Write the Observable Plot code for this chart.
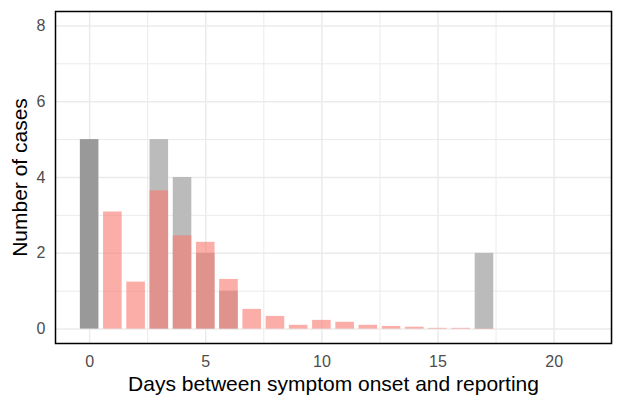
<!DOCTYPE html>
<html>
<head>
<meta charset="utf-8">
<script src="https://cdn.jsdelivr.net/npm/d3@7"></script>
<script src="https://cdn.jsdelivr.net/npm/@observablehq/plot@0.6"></script>
<style>
  html, body { margin: 0; padding: 0; background: #fff; }
  #chart svg { display: block; }
</style>
</head>
<body>
<div id="chart"></div>
<script>
// Observed reporting delays (days) and case counts
const observedDays = [0, 3, 4, 5, 6, 17];
const observedCases = [5, 5, 4, 2, 1, 2];

// Estimated delay distribution (expected cases per day)
const estimatedDays = [1, 2, 3, 4, 5, 6, 7, 8, 9, 10, 11, 12, 13, 14, 15, 16, 17];
const estimatedCases = [3.09, 1.24, 3.65, 2.46, 2.29, 1.31, 0.52, 0.335, 0.10, 0.23, 0.18, 0.10, 0.07, 0.05, 0.02, 0.02, 0.01];

const xTicks = [0, 5, 10, 15, 20];
const xMinor = [2.5, 7.5, 12.5, 17.5, 22.5];
const yTicks = [0, 2, 4, 6, 8];
const yMinor = [1, 3, 5, 7];

const xTitle = "Days between symptom onset and reporting";
const yTitle = "Number of cases";

const observed = observedDays.map((d, i) => ({day: d, cases: observedCases[i]}));
const estimated = estimatedDays.map((d, i) => ({day: d, cases: estimatedCases[i]}));

const half = 0.4;

const chart = Plot.plot({
  width: 622,
  height: 405,
  marginLeft: 55,
  marginRight: 11,
  marginTop: 11,
  marginBottom: 62,
  style: {fontFamily: "Liberation Sans, Arial, sans-serif", background: "#fff"},
  x: {domain: [-1.47, 22.47]},
  y: {domain: [-0.38, 8.38]},
  marks: [
    Plot.ruleX(xMinor, {stroke: "#ebebeb", strokeWidth: 1}),
    Plot.ruleY(yMinor, {stroke: "#ebebeb", strokeWidth: 1}),
    Plot.ruleX(xTicks, {stroke: "#ebebeb", strokeWidth: 1.5}),
    Plot.ruleY(yTicks, {stroke: "#ebebeb", strokeWidth: 1.5}),
    Plot.rect(observed, {
      x1: d => d.day - half, x2: d => d.day + half,
      y1: 0, y2: "cases",
      fill: d => d.day === 0 ? "#999999" : "#bbbbbb"
    }),
    Plot.rect(estimated, {
      x1: d => d.day - half, x2: d => d.day + half,
      y1: 0, y2: "cases",
      fill: "#F8766D", fillOpacity: 0.6
    }),
    Plot.axisX(xTicks, {
      tickSize: 0, tickPadding: 12, color: "#4d4d4d", fontSize: 16, label: null
    }),
    Plot.axisY(yTicks, {
      tickSize: 0, tickPadding: 10, color: "#4d4d4d", fontSize: 16, label: null
    }),
    Plot.text([xTitle], {
      frameAnchor: "bottom", textAnchor: "middle", lineAnchor: "middle",
      dy: 41, fontSize: 21, fill: "black"
    }),
    Plot.text([yTitle], {
      frameAnchor: "left", textAnchor: "middle", lineAnchor: "middle",
      dx: -35, rotate: -90, fontSize: 21, fill: "black"
    }),
    Plot.frame({stroke: "black", strokeWidth: 1.5})
  ]
});

document.getElementById("chart").appendChild(chart);
</script>
</body>
</html>
